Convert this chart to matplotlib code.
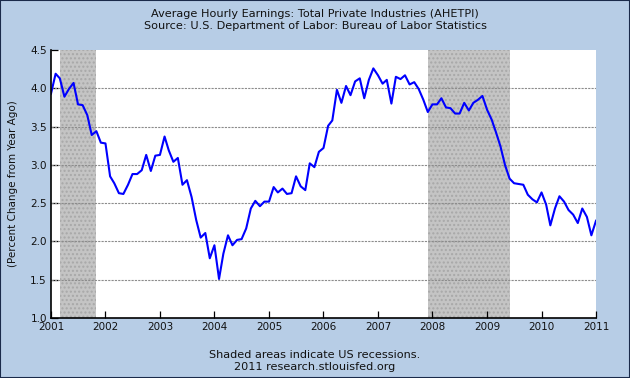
import matplotlib
matplotlib.use("Agg")
import matplotlib.pyplot as plt
import matplotlib.patches as mpatches
import pandas as pd

title_line1 = "Average Hourly Earnings: Total Private Industries (AHETPI)"
title_line2 = "Source: U.S. Department of Labor: Bureau of Labor Statistics"
y_label = "(Percent Change from Year Ago)"
footer1 = "Shaded areas indicate US recessions."
footer2 = "2011 research.stlouisfed.org"

start_month = "2001-01-01"
values = [
    3.93, 4.19, 4.13, 3.89, 3.99, 4.07, 3.79, 3.78, 3.65, 3.39, 3.44, 3.29,
    3.28, 2.85, 2.76, 2.63, 2.62, 2.74, 2.88, 2.88, 2.93, 3.13, 2.92, 3.12,
    3.13, 3.37, 3.19, 3.04, 3.09, 2.74, 2.80, 2.58, 2.28, 2.05, 2.11, 1.78,
    1.95, 1.51, 1.84, 2.08, 1.95, 2.02, 2.03, 2.17, 2.43, 2.53, 2.46, 2.52,
    2.52, 2.71, 2.64, 2.69, 2.62, 2.63, 2.85, 2.72, 2.67, 3.02, 2.97, 3.17,
    3.22, 3.51, 3.58, 3.98, 3.81, 4.03, 3.91, 4.09, 4.13, 3.87, 4.11, 4.26,
    4.17, 4.06, 4.11, 3.80, 4.15, 4.12, 4.17, 4.05, 4.08, 3.99, 3.85, 3.69,
    3.79, 3.79, 3.87, 3.75, 3.74, 3.67, 3.67, 3.81, 3.71, 3.81, 3.85, 3.90,
    3.72, 3.59, 3.43, 3.24, 3.00, 2.82, 2.76, 2.75, 2.74, 2.61, 2.55, 2.51,
    2.64, 2.48, 2.21, 2.43, 2.59, 2.52, 2.41, 2.35, 2.24, 2.43, 2.32, 2.08,
    2.27,
]
recessions = [("2001-03-01", "2001-11-01"), ("2007-12-01", "2009-06-01")]
x_tick_years = list(range(2001, 2012))
y_ticks = [1.0, 1.5, 2.0, 2.5, 3.0, 3.5, 4.0, 4.5]

dates = pd.date_range(start_month, periods=len(values), freq="MS")

bg = "#B7CDE6"
fig = plt.figure(figsize=(6.3, 3.78), dpi=100, facecolor=bg)
ax = fig.add_axes([51/630, 1-318/378, 545/630, 268/378])
ax.set_facecolor("white")

for s, e in recessions:
    ax.axvspan(pd.Timestamp(s), pd.Timestamp(e), facecolor="#C4C4C4",
               edgecolor="#A8A8A8", hatch="....", linewidth=0, zorder=1)

for yv in y_ticks[1:-1]:
    ax.axhline(yv, color="#8C8C8C", linestyle=(0, (2, 1)), linewidth=0.8, zorder=2)

ax.plot(dates, values, color="#0000FF", linewidth=1.5, zorder=3)

ax.set_xlim(pd.Timestamp("2001-01-01"), pd.Timestamp("2011-01-01"))
ax.set_ylim(1.0, 4.5)
ax.set_xticks([pd.Timestamp(f"{y}-01-01") for y in x_tick_years])
ax.set_xticklabels([str(y) for y in x_tick_years])
ax.set_yticks(y_ticks)
ax.set_yticklabels([f"{v:.1f}" for v in y_ticks])
ax.tick_params(axis="both", direction="in", length=5, width=0.9, color="black",
               labelsize=7.5, labelcolor="#111111")
ax.tick_params(axis="x", pad=3)
ax.tick_params(axis="y", pad=3)
for side in ["top", "right"]:
    ax.spines[side].set_visible(False)
for side in ["left", "bottom"]:
    ax.spines[side].set_linewidth(1.2)
    ax.spines[side].set_zorder(5)

fs = 8.1
fig.text(0.5, 1-14/378, title_line1, ha="center", va="center", fontsize=fs, color="#111111")
fig.text(0.5, 1-26/378, title_line2, ha="center", va="center", fontsize=fs, color="#111111")
fig.text(13/630, 1-184/378, y_label, ha="center", va="center", rotation=90, fontsize=7.5, color="#111111")
fig.text(0.5, 1-355/378, footer1, ha="center", va="center", fontsize=fs, color="#111111")
fig.text(0.5, 1-367/378, footer2, ha="center", va="center", fontsize=fs, color="#111111")

fig.patches.append(mpatches.Rectangle((0, 0), 1, 1, transform=fig.transFigure,
                                      fill=False, edgecolor="#1A2A4A", linewidth=1.5))

fig.savefig("out.png", dpi=100, facecolor=bg)
